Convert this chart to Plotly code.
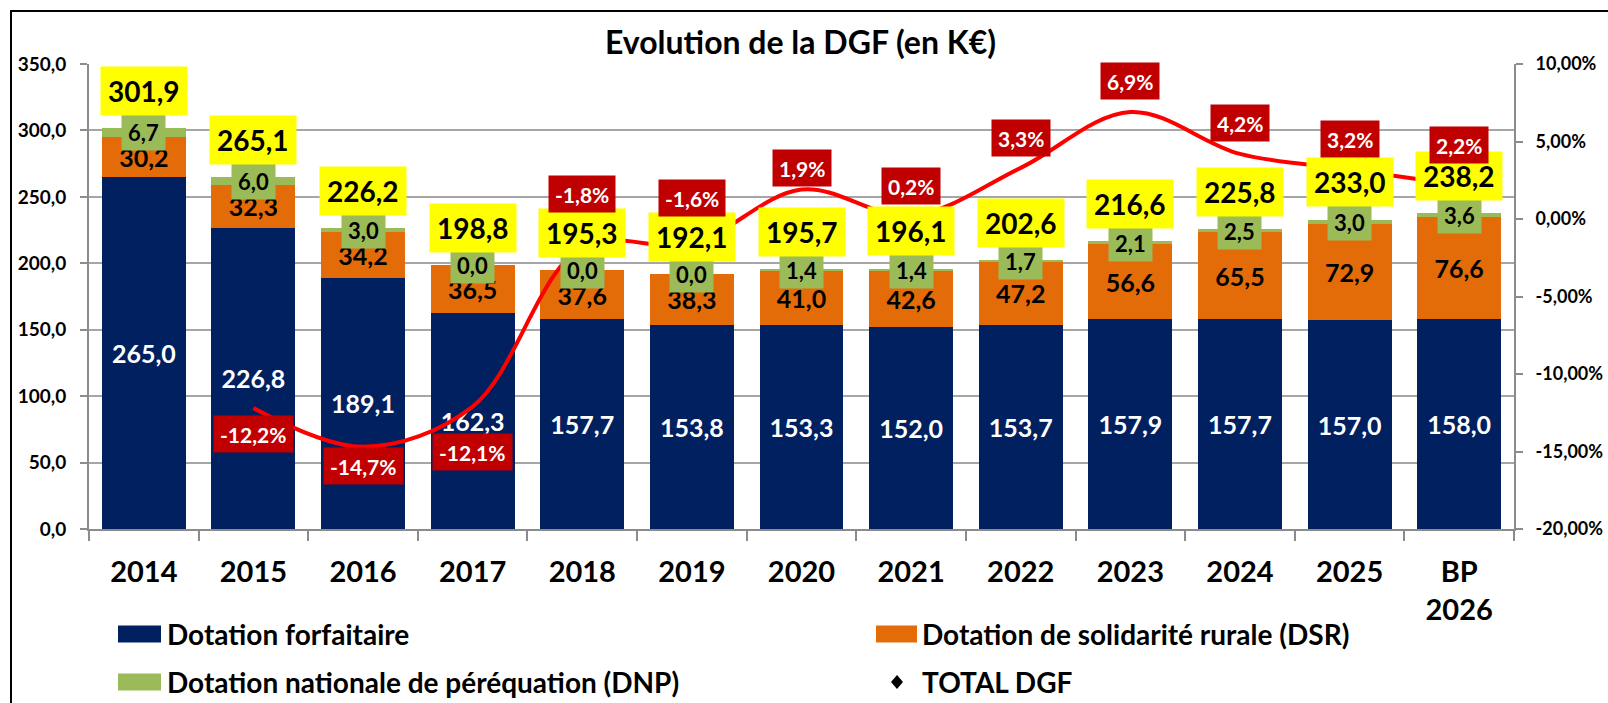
import plotly.graph_objects as go

# ---------------- data ----------------
categories = ["2014", "2015", "2016", "2017", "2018", "2019", "2020",
              "2021", "2022", "2023", "2024", "2025", "BP<br>2026"]
dotation_forfaitaire = [265.0, 226.8, 189.1, 162.3, 157.7, 153.8, 153.3,
                        152.0, 153.7, 157.9, 157.7, 157.0, 158.0]
dsr = [30.2, 32.3, 34.2, 36.5, 37.6, 38.3, 41.0, 42.6, 47.2, 56.6, 65.5, 72.9, 76.6]
dnp = [6.7, 6.0, 3.0, 0.0, 0.0, 0.0, 1.4, 1.4, 1.7, 2.1, 2.5, 3.0, 3.6]
total_dgf = [301.9, 265.1, 226.2, 198.8, 195.3, 192.1, 195.7, 196.1,
             202.6, 216.6, 225.8, 233.0, 238.2]
evolution_pct = [None, -12.2, -14.7, -12.1, -1.8, -1.6, 1.9, 0.2, 3.3, 6.9, 4.2, 3.2, 2.2]

left_tickvals = [0, 50, 100, 150, 200, 250, 300, 350]
left_ticktext = ["0,0", "50,0", "100,0", "150,0", "200,0", "250,0", "300,0", "350,0"]
right_tickvals = [-20, -15, -10, -5, 0, 5, 10]
right_ticktext = ["-20,00%", "-15,00%", "-10,00%", "-5,00%", "0,00%", "5,00%", "10,00%"]

# label vertical offsets (px) for the % labels
pct_label_shift = [0, -26, -19, -45, 53, 46, 22, 30, 30, 31, 31, 30, 40]

# ---------------- style ----------------
FONT = "Lato, Carlito, Calibri, 'DejaVu Sans', sans-serif"
NAVY = "#002060"
ORANGE = "#E36C09"
GREEN = "#9BBB59"
YELLOW = "#FFFF00"
DARKRED = "#C00000"
RED = "#FF0000"
GRID = "#A6A6A6"
AXIS = "#8C8C8C"

W, H = 1608, 703
ML, MR, MT, MB = 89, 94, 64, 174
PW, PH = W - ML - MR, H - MT - MB


def fx(px):
    return (px - ML) / PW


def fy(py):
    return (H - MB - py) / PH


def fmt(v):
    return f"{v:.1f}".replace(".", ",")


fig = go.Figure()

fig.add_trace(go.Bar(
    x=categories, y=dotation_forfaitaire, name="Dotation forfaitaire",
    marker=dict(color=NAVY, line=dict(width=0)),
    text=[fmt(v) for v in dotation_forfaitaire], textposition="inside",
    insidetextanchor="middle", textangle=0,
    textfont=dict(family=FONT, size=25, color="white", weight="bold"),
    hoverinfo="skip", showlegend=False))
fig.add_trace(go.Bar(
    x=categories, y=dsr, name="Dotation de solidarité rurale (DSR)",
    marker=dict(color=ORANGE, line=dict(width=0)),
    text=[fmt(v) for v in dsr], textposition="inside",
    insidetextanchor="middle", textangle=0,
    textfont=dict(family=FONT, size=25, color="black", weight="bold"),
    hoverinfo="skip", showlegend=False))
fig.add_trace(go.Bar(
    x=categories, y=dnp, name="Dotation nationale de péréquation (DNP)",
    marker=dict(color=GREEN, line=dict(width=0)),
    hoverinfo="skip", showlegend=False))
fig.add_trace(go.Scatter(
    x=categories, y=total_dgf, name="TOTAL DGF", mode="markers",
    marker=dict(symbol="diamond", color="black", size=8),
    hoverinfo="skip", showlegend=False))
fig.add_trace(go.Scatter(
    x=categories, y=evolution_pct, yaxis="y2", mode="lines",
    line=dict(color=RED, width=4, shape="spline", smoothing=1.0),
    connectgaps=False, hoverinfo="skip", showlegend=False))

annotations = []
# DNP green labels (x given as category index on the category axis)
for i, (f, d, p) in enumerate(zip(dotation_forfaitaire, dsr, dnp)):
    annotations.append(dict(
        x=i, y=f + d + p / 2, xref="x", yref="y", text=fmt(p), showarrow=False,
        bgcolor=GREEN, borderpad=6, height=24,
        font=dict(family=FONT, size=22, color="black", weight="bold")))
# total yellow labels
for i, t in enumerate(total_dgf):
    annotations.append(dict(
        x=i, y=t, xref="x", yref="y", yshift=37, text=fmt(t), showarrow=False,
        bgcolor=YELLOW, borderpad=7,
        font=dict(family=FONT, size=28, color="black", weight="bold")))
# evolution red labels
for i, (e, s) in enumerate(zip(evolution_pct, pct_label_shift)):
    if e is None:
        continue
    annotations.append(dict(
        x=i, y=e, xref="x", yref="y2", yshift=s,
        text=f"{e:.1f}".replace(".", ",") + "%", showarrow=False,
        bgcolor=DARKRED, borderpad=6, height=24,
        font=dict(family=FONT, size=21, color="white", weight="bold")))

# custom legend
shapes = []
legend_items = [
    ("rect", NAVY, "Dotation forfaitaire", 118, 161, 165, 634),
    ("rect", ORANGE, "Dotation de solidarité rurale (DSR)", 876, 917, 920, 634),
    ("rect", GREEN, "Dotation nationale de péréquation (DNP)", 118, 161, 165, 682),
    ("diamond", "black", "TOTAL DGF", 891, 903, 920, 682),
]
for kind, col, label, x0, x1, tx, cy in legend_items:
    if kind == "rect":
        shapes.append(dict(type="rect", xref="paper", yref="paper",
                           x0=fx(x0), x1=fx(x1), y0=fy(cy + 8.5), y1=fy(cy - 8.5),
                           fillcolor=col, line=dict(width=0)))
    else:
        cx = (x0 + x1) / 2
        pts = [(cx, cy - 7), (cx + 6, cy), (cx, cy + 7), (cx - 6, cy)]
        path = "M " + " L ".join(f"{fx(a)},{fy(b)}" for a, b in pts) + " Z"
        shapes.append(dict(type="path", xref="paper", yref="paper", path=path,
                           fillcolor=col, line=dict(width=0)))
    annotations.append(dict(x=fx(tx), y=fy(cy), xref="paper", yref="paper",
                            xanchor="left", yanchor="middle", text=label, showarrow=False,
                            font=dict(family=FONT, size=28, color="black", weight="bold")))

# outer frame
shapes.append(dict(type="rect", xref="paper", yref="paper",
                   x0=fx(11), x1=fx(1625), y0=fy(720), y1=fy(11),
                   line=dict(color="black", width=2), fillcolor="rgba(0,0,0,0)"))

fig.update_layout(
    width=W, height=H,
    margin=dict(l=ML, r=MR, t=MT, b=MB),
    paper_bgcolor="white", plot_bgcolor="white",
    barmode="stack", bargap=0.234,
    title=dict(text="Evolution de la DGF (en K€)", x=fx(800.5), xref="paper",
               xanchor="center", y=1 - 43 / H, yanchor="middle",
               font=dict(family=FONT, size=32, color="black", weight="bold")),
    xaxis=dict(type="category", showline=True, linecolor=AXIS, linewidth=2,
               range=[-0.5, len(categories) - 0.5], automargin=False,
               ticks="outside", tickson="boundaries", ticklen=10, tickcolor=AXIS,
               tickwidth=2, ticklabelstandoff=16, tickangle=0,
               tickfont=dict(family=FONT, size=29, color="black", weight="bold"),
               showgrid=False),
    yaxis=dict(range=[0, 350], tickvals=left_tickvals, ticktext=left_ticktext,
               showline=True, linecolor=AXIS, linewidth=2, ticks="outside",
               ticklen=7, tickcolor=AXIS, tickwidth=2, ticklabelstandoff=10,
               automargin=False,
               showgrid=True, gridcolor=GRID, gridwidth=1.5, zeroline=False,
               tickfont=dict(family=FONT, size=19, color="black", weight="bold")),
    yaxis2=dict(range=[-20, 10], overlaying="y", side="right",
                tickvals=right_tickvals, ticktext=right_ticktext,
                showline=True, linecolor=AXIS, linewidth=2, ticks="outside",
                ticklen=7, tickcolor=AXIS, tickwidth=2, ticklabelstandoff=9,
                automargin=False,
                showgrid=False, zeroline=False,
                tickfont=dict(family=FONT, size=18, color="black", weight="bold")),
    annotations=annotations,
    shapes=shapes,
    showlegend=False,
)

fig.write_html("out.html", config={"displayModeBar": False},
               post_script="document.body.style.margin='0';")
